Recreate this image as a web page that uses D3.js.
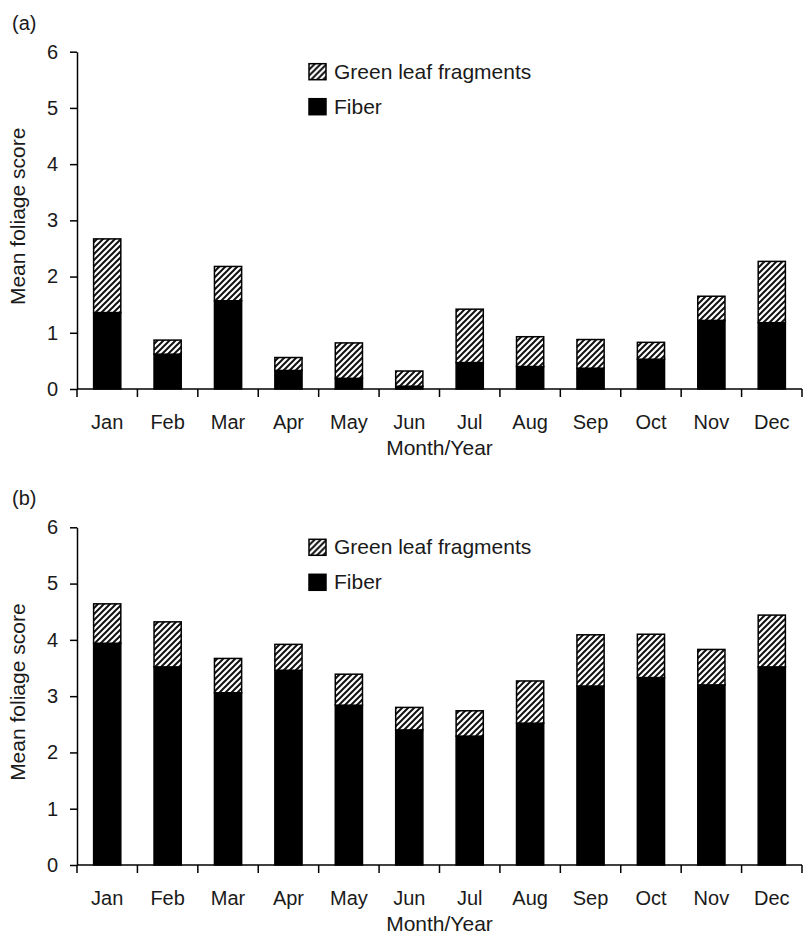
<!DOCTYPE html>
<html lang="en">
<head>
    <meta charset="UTF-8">
    <title>Mean foliage score</title>
    <script src="https://cdnjs.cloudflare.com/ajax/libs/d3/7.6.1/d3.min.js"></script>
    <style>
        body { margin: 0; background: #fff; }
        text { font-family: "Liberation Sans", Arial, sans-serif; fill: #1a1a1a; }
    </style>
</head>
<body>
    <div id="chart"></div>
    <script>
        var months = ['Jan', 'Feb', 'Mar', 'Apr', 'May', 'Jun', 'Jul', 'Aug', 'Sep', 'Oct', 'Nov', 'Dec'];
        var yTicks = [0, 1, 2, 3, 4, 5, 6];
        // panel (a)
        var fiberA = [1.36, 0.62, 1.57, 0.33, 0.19, 0.05, 0.47, 0.40, 0.37, 0.53, 1.22, 1.18];
        var greenA = [1.31, 0.25, 0.61, 0.23, 0.63, 0.27, 0.95, 0.53, 0.51, 0.30, 0.43, 1.09];
        // panel (b)
        var fiberB = [3.94, 3.52, 3.06, 3.46, 2.84, 2.40, 2.29, 2.52, 3.18, 3.33, 3.20, 3.52];
        var greenB = [0.70, 0.80, 0.61, 0.46, 0.55, 0.40, 0.45, 0.75, 0.91, 0.77, 0.63, 0.92];

        var w = 804,
            h = 942,
            left = 77,
            right = 802,
            svg = d3.select('#chart')
                    .append('svg')
                    .attr('width', w)
                    .attr('height', h);

        // hatch pattern
        var pat = svg.append('defs')
                    .append('pattern')
                    .attr('id', 'hatch')
                    .attr('patternUnits', 'userSpaceOnUse')
                    .attr('width', 6)
                    .attr('height', 6);
        pat.append('rect').attr('width', 6).attr('height', 6).attr('fill', '#fff');
        pat.append('path')
            .attr('d', 'M0,6 L6,0 M-1.5,1.5 L1.5,-1.5 M4.5,7.5 L7.5,4.5')
            .attr('stroke', '#111')
            .attr('stroke-width', 2);

        var x = d3.scaleBand()
                  .domain(months)
                  .range([left, right])
                  .paddingInner(0.55)
                  .paddingOuter(0.275);

        function drawPanel(top, bottom, label, fiber, green) {
            var y = d3.scaleLinear().domain([0, 6]).range([bottom, top]);
            var g = svg.append('g');

            // BARS
            g.selectAll('.fiber')
                .data(months)
                .enter()
                .append('rect')
                .attr('x', (d) => x(d))
                .attr('width', x.bandwidth())
                .attr('y', (d, i) => y(fiber[i]))
                .attr('height', (d, i) => y(0) - y(fiber[i]))
                .attr('fill', '#000')
                .attr('stroke', '#000')
                .attr('stroke-width', 1.5);
            g.selectAll('.green')
                .data(months)
                .enter()
                .append('rect')
                .attr('x', (d) => x(d))
                .attr('width', x.bandwidth())
                .attr('y', (d, i) => y(fiber[i] + green[i]))
                .attr('height', (d, i) => y(fiber[i]) - y(fiber[i] + green[i]))
                .attr('fill', 'url(#hatch)')
                .attr('stroke', '#000')
                .attr('stroke-width', 1.5);

            // Y-AXIS
            var yAxis = g.append('g')
                .attr('transform', 'translate(' + left + ',0)')
                .call(d3.axisLeft(y).tickValues(yTicks).tickFormat(d3.format('d'))
                        .tickSize(7).tickPadding(12).tickSizeOuter(0));
            yAxis.selectAll('text').style('font-size', '20px').attr('fill', '#1a1a1a');

            // X-AXIS: ticks at band edges
            var xAxis = g.append('g')
                .attr('transform', 'translate(0,' + bottom + ')')
                .call(d3.axisBottom(x).tickSize(0).tickPadding(26).tickSizeOuter(0));
            xAxis.selectAll('text').style('font-size', '20px').attr('fill', '#1a1a1a');
            xAxis.select('.domain').attr('d', 'M' + left + ',0H' + right);
            var edges = months.map((d) => x(d) - x.step() * x.paddingOuter());
            edges.push(right);
            xAxis.selectAll('.edge')
                .data(edges)
                .enter()
                .append('line')
                .attr('x1', (d) => d)
                .attr('x2', (d) => d)
                .attr('y1', 0)
                .attr('y2', 8)
                .attr('stroke', '#000');
            g.selectAll('.domain, .tick line, line').attr('stroke-width', 1.5);

            // titles
            g.append('text')
                .attr('x', (left + right) / 2)
                .attr('y', bottom + 66)
                .attr('text-anchor', 'middle')
                .style('font-size', '21px')
                .text('Month/Year');
            g.append('text')
                .attr('transform', 'translate(25,' + ((top + bottom) / 2 - 4) + ') rotate(-90)')
                .attr('text-anchor', 'middle')
                .style('font-size', '21px')
                .text('Mean foliage score');
            g.append('text')
                .attr('x', 12)
                .attr('y', top - 22)
                .style('font-size', '20px')
                .text(label);

            // LEGEND
            var lg = g.append('g').attr('transform', 'translate(309,' + (top + 12) + ')');
            lg.append('rect').attr('width', 17).attr('height', 16)
                .attr('fill', 'url(#hatch)').attr('stroke', '#000').attr('stroke-width', 1.5);
            lg.append('text').attr('x', 25).attr('y', 15).style('font-size', '21px').text('Green leaf fragments');
            lg.append('rect').attr('y', 35).attr('width', 17).attr('height', 16)
                .attr('fill', '#000').attr('stroke', '#000').attr('stroke-width', 1.5);
            lg.append('text').attr('x', 25).attr('y', 50).style('font-size', '21px').text('Fiber');
        }

        drawPanel(51.7, 389, '(a)', fiberA, greenA);
        drawPanel(527.3, 865, '(b)', fiberB, greenB);
    </script>
</body>
</html>
